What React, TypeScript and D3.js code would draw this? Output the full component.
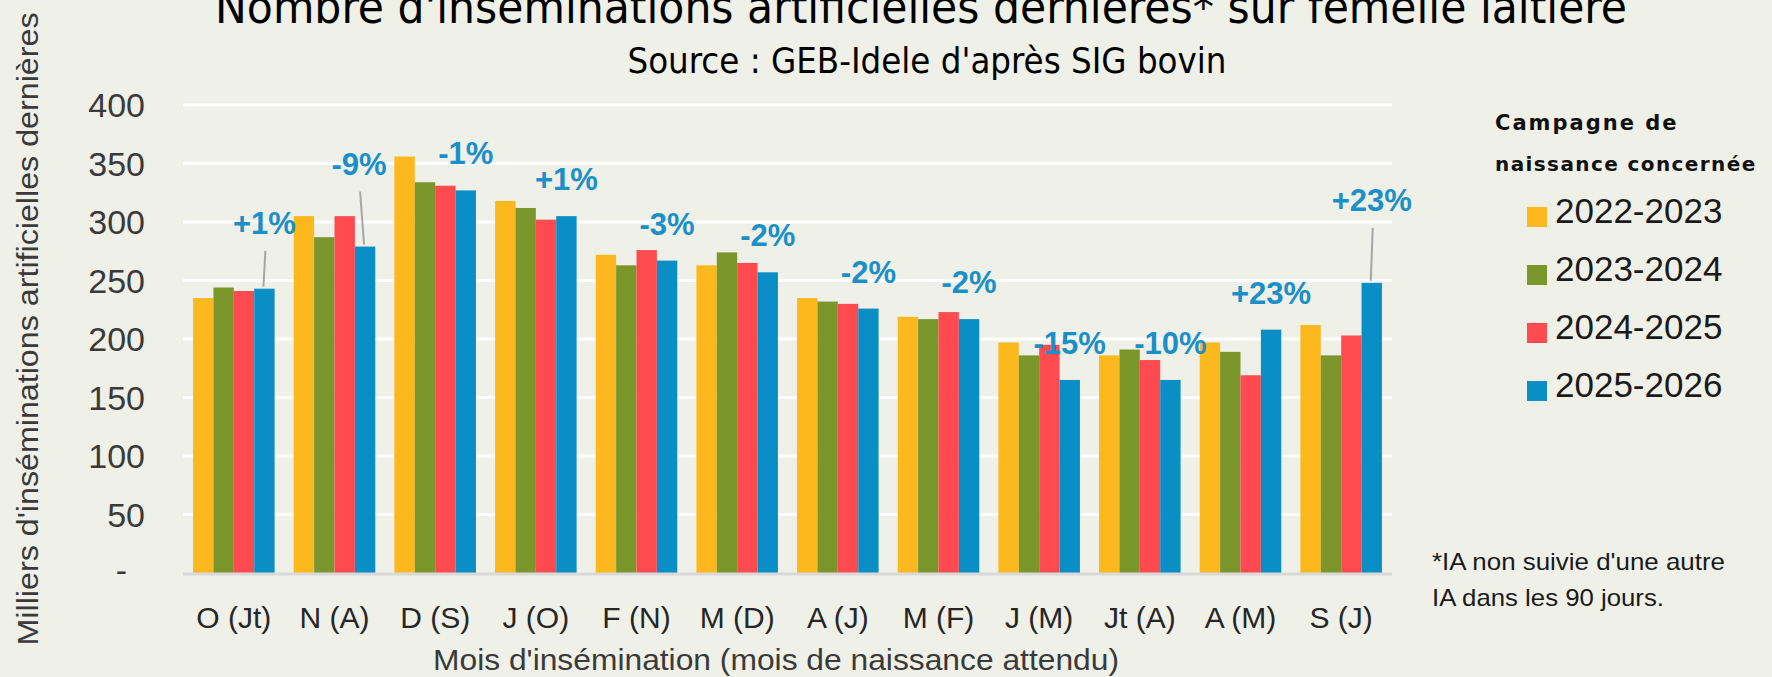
import * as d3 from 'd3';
import * as React from 'react';

const { useRef, useEffect } = React;

const width = 1772;
const height = 677;
const margin = { top: 105, right: 380, bottom: 104, left: 183 };

// mois d'insémination (mois de naissance attendu)
const categories = ['O (Jt)', 'N (A)', 'D (S)', 'J (O)', 'F (N)', 'M (D)', 'A (J)', 'M (F)', 'J (M)', 'Jt (A)', 'A (M)', 'S (J)'];
const campaigns = ['2022-2023', '2023-2024', '2024-2025', '2025-2026'];

// milliers d'IA dernières
const values2223 = [235, 305, 356, 318, 272, 263, 235, 219, 197, 186, 197, 212];
const values2324 = [244, 287, 334, 312, 263, 274, 232, 217, 186, 191, 189, 186];
const values2425 = [241, 305, 331, 302, 276, 265, 230, 223, 195, 182, 169, 203];
const values2526 = [243, 279, 327, 305, 267, 257, 226, 217, 165, 165, 208, 248];

// évolution 2025-2026 / 2024-2025
const changeLabels = ['+1%', '-9%', '-1%', '+1%', '-3%', '-2%', '-2%', '-2%', '-15%', '-10%', '+23%', '+23%'];

const yTicks = [0, 50, 100, 150, 200, 250, 300, 350, 400];

const colors = ['#FDB81E', '#7B972C', '#FF4A4F', '#098EC5'];
const labelColor = '#1A8FC8';
const bg = '#EFF0E7';

// étiquettes déplacées avec trait de rappel (décalage en px)
const callouts: Record<string, { lift: number; dx: number }> = {
  'O (Jt)': { lift: 66, dx: 0 },
  'N (A)': { lift: 83, dx: -6 },
  'S (J)': { lift: 83, dx: 0 },
};

type Row = { cat: string; values: number[]; label: string };

export default () => {
  const rootRef = useRef<SVGSVGElement>(null);

  useEffect(() => {
    const rootEl = rootRef.current;
    if (!rootEl) return;

    const series = [values2223, values2324, values2425, values2526];
    const data: Row[] = categories.map((cat, i) => ({
      cat,
      values: series.map(s => s[i]),
      label: changeLabels[i],
    }));

    const svg = d3.select(rootEl);
    svg.selectAll('*').remove();

    svg.append('rect').attr('width', width).attr('height', height).attr('fill', bg);

    const x = d3
      .scaleBand()
      .domain(categories)
      .range([margin.left, width - margin.right])
      .paddingInner(0.19)
      .paddingOuter(0.1);

    const xs = d3.scaleBand().domain(campaigns).range([0, x.bandwidth()]);

    const y = d3
      .scaleLinear()
      .domain([0, 400])
      .range([height - margin.bottom, margin.top]);

    // grille
    svg
      .append('g')
      .selectAll('line')
      .data(yTicks.filter(d => d > 0))
      .join('line')
      .attr('x1', margin.left)
      .attr('x2', width - margin.right)
      .attr('y1', d => y(d))
      .attr('y2', d => y(d))
      .attr('stroke', '#ffffff')
      .attr('stroke-width', 3);

    // axe Y
    const yAxis = svg
      .append('g')
      .attr('transform', `translate(145,0)`)
      .call(
        d3
          .axisLeft(y)
          .tickValues(yTicks)
          .tickSize(0)
          .tickPadding(0)
          .tickFormat(d => (d === 0 ? '-' : String(d))),
      );
    yAxis.select('.domain').remove();
    yAxis
      .selectAll('text')
      .attr('font-family', "'Liberation Sans', Arial, sans-serif")
      .attr('font-size', 34)
      .attr('fill', '#3a3a3a')
      .attr('dx', (d: any) => (d === 0 ? -18 : 0))
      .attr('dy', (d: any) => (d === 0 ? '0.26em' : '0.34em'));

    // barres
    const groups = svg
      .append('g')
      .selectAll('g')
      .data(data)
      .join('g')
      .attr('transform', d => `translate(${x(d.cat)},0)`);

    groups
      .selectAll('rect')
      .data(d => d.values.map((v, k) => ({ v, k })))
      .join('rect')
      .attr('x', d => xs(campaigns[d.k]) as number)
      .attr('width', xs.bandwidth())
      .attr('y', d => y(d.v))
      .attr('height', d => y(0) - y(d.v))
      .attr('fill', d => colors[d.k]);

    // ligne de base
    svg
      .append('line')
      .attr('x1', margin.left)
      .attr('x2', width - margin.right)
      .attr('y1', y(0) + 1)
      .attr('y2', y(0) + 1)
      .attr('stroke', '#d9d9d9')
      .attr('stroke-width', 3);

    // étiquettes d'évolution
    const lab = svg.append('g');
    data.forEach(d => {
      const bx = (x(d.cat) as number) + (xs(campaigns[3]) as number) + xs.bandwidth() / 2;
      const top = y(d.values[3]);
      const c = callouts[d.cat];
      const lift = c ? c.lift : 37;
      const cy = top - lift;
      const lx = bx + (c ? c.dx : 0);
      if (c) {
        lab
          .append('line')
          .attr('x1', lx + 1)
          .attr('y1', cy + 28)
          .attr('x2', bx - 1)
          .attr('y2', top - 2)
          .attr('stroke', '#a6a6a6')
          .attr('stroke-width', 2);
      }
      lab
        .append('text')
        .attr('x', lx)
        .attr('y', cy + 11)
        .attr('text-anchor', 'middle')
        .attr('font-family', "'Liberation Sans', Arial, sans-serif")
        .attr('font-weight', 'bold')
        .attr('font-size', 31)
        .attr('fill', labelColor)
        .text(d.label);
    });

    // axe X
    svg
      .append('g')
      .selectAll('text')
      .data(categories)
      .join('text')
      .attr('x', d => (x(d) as number) + x.bandwidth() / 2)
      .attr('y', 628)
      .attr('text-anchor', 'middle')
      .attr('font-family', "'Liberation Sans', Arial, sans-serif")
      .attr('font-size', 30)
      .attr('fill', '#262626')
      .text(d => d);

    const cond = "'Liberation Sans Narrow', 'DejaVu Sans Condensed', 'Open Sans', sans-serif";

    // titres
    svg
      .append('text')
      .attr('x', 921)
      .attr('y', 23)
      .attr('text-anchor', 'middle')
      .attr('font-family', cond)
      .attr('font-size', 46)
      .attr('textLength', 1412)
      .attr('lengthAdjust', 'spacingAndGlyphs')
      .attr('fill', '#000')
      .text("Nombre d'inséminations artificielles dernières* sur femelle laitière");

    svg
      .append('text')
      .attr('x', 927)
      .attr('y', 73)
      .attr('text-anchor', 'middle')
      .attr('font-family', cond)
      .attr('font-size', 36)
      .attr('textLength', 599)
      .attr('lengthAdjust', 'spacingAndGlyphs')
      .attr('fill', '#000')
      .text("Source : GEB-Idele d'après SIG bovin");

    svg
      .append('text')
      .attr('transform', `translate(38,329) rotate(-90)`)
      .attr('text-anchor', 'middle')
      .attr('font-family', "'Liberation Sans', Arial, sans-serif")
      .attr('font-size', 30)
      .attr('textLength', 633)
      .attr('lengthAdjust', 'spacingAndGlyphs')
      .attr('fill', '#3a3a3a')
      .text("Milliers d'inséminations artificielles dernières");

    svg
      .append('text')
      .attr('x', 776)
      .attr('y', 670)
      .attr('text-anchor', 'middle')
      .attr('font-family', "'Liberation Sans', Arial, sans-serif")
      .attr('font-size', 30)
      .attr('textLength', 686)
      .attr('lengthAdjust', 'spacingAndGlyphs')
      .attr('fill', '#3a3a3a')
      .text("Mois d'insémination (mois de naissance attendu)");

    // légende
    const leg = svg.append('g');
    leg
      .append('text')
      .attr('x', 1495)
      .attr('y', 130)
      .attr('font-family', "'DejaVu Sans', sans-serif")
      .attr('font-weight', 'bold')
      .attr('font-size', 21)
      .attr('letter-spacing', 2)
      .attr('fill', '#111')
      .text('Campagne de');
    leg
      .append('text')
      .attr('x', 1495)
      .attr('y', 171)
      .attr('font-family', "'DejaVu Sans', sans-serif")
      .attr('font-weight', 'bold')
      .attr('font-size', 20)
      .attr('letter-spacing', 1.4)
      .attr('fill', '#111')
      .text('naissance concernée');

    const items = leg
      .selectAll('g.item')
      .data(campaigns)
      .join('g')
      .attr('class', 'item')
      .attr('transform', (d, i) => `translate(1527,${217 + i * 58})`);
    items
      .append('rect')
      .attr('y', -10)
      .attr('width', 20)
      .attr('height', 20)
      .attr('fill', (d, i) => colors[i]);
    items
      .append('text')
      .attr('x', 28)
      .attr('y', 6)
      .attr('font-family', "'Liberation Sans', Arial, sans-serif")
      .attr('font-size', 35)
      .attr('fill', '#1a1a1a')
      .text(d => d);

    // note
    const note = svg
      .append('g')
      .attr('font-family', "'Liberation Sans', Arial, sans-serif")
      .attr('font-size', 24)
      .attr('fill', '#1a1a1a');
    note
      .append('text')
      .attr('x', 1432)
      .attr('y', 570)
      .attr('textLength', 293)
      .attr('lengthAdjust', 'spacingAndGlyphs')
      .text("*IA non suivie d'une autre");
    note
      .append('text')
      .attr('x', 1432)
      .attr('y', 606)
      .attr('textLength', 232)
      .attr('lengthAdjust', 'spacingAndGlyphs')
      .text('IA dans les 90 jours.');
  }, []);

  return (
    <svg
      ref={rootRef}
      width={width}
      height={height}
      viewBox={`0 0 ${width} ${height}`}
      style={{ position: 'absolute', left: 0, top: 0, display: 'block' }}
    />
  );
};
